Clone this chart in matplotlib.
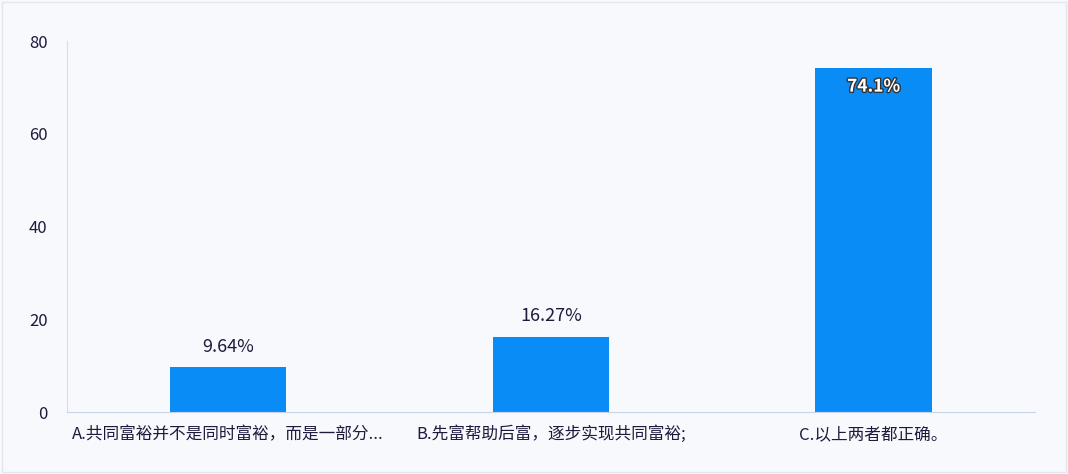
import matplotlib
matplotlib.use("Agg")
import matplotlib.pyplot as plt
import matplotlib.patheffects as pe

plt.rcParams['font.family'] = ['Noto Sans CJK SC', 'DejaVu Sans']

# data
categories = ["A.共同富裕并不是同时富裕，而是一部分...",
              "B.先富帮助后富，逐步实现共同富裕;",
              "C.以上两者都正确。"]
values = [9.64, 16.27, 74.1]
labels = ["9.64%", "16.27%", "74.1%"]
yticks = [0, 20, 40, 60, 80]

bg = "#f8f9fd"
bar_color = "#0a8cf6"
text_color = "#1e1a3c"

fig = plt.figure(figsize=(10.68, 4.74), dpi=100, facecolor=bg)
ax = fig.add_axes([0.0627, 0.1308, 0.9063, 0.7827], facecolor=bg)

x = list(range(len(categories)))
bars = ax.bar(x, values, width=0.36, color=bar_color, zorder=2)

ax.set_xlim(-0.5, len(categories) - 0.5)
ax.set_ylim(0, 80)
ax.set_yticks(yticks)
ax.set_xticks(x)
ax.set_xticklabels(categories, fontsize=12, color=text_color)
ax.tick_params(axis='y', labelsize=12, colors=text_color, length=0, pad=14)
ax.tick_params(axis='x', length=0, pad=10)

for s in ['top', 'right']:
    ax.spines[s].set_visible(False)
ax.spines['left'].set_color("#d8dcec")
ax.spines['bottom'].set_color("#c8d4ec")

for i, (v, lab) in enumerate(zip(values, labels)):
    if v > 50:
        ax.text(i, v - 2.0, lab, ha='center', va='top', fontsize=12.5,
                color='white', fontweight='bold',
                path_effects=[pe.withStroke(linewidth=2, foreground='#333333')])
    else:
        ax.text(i, v + 2.5, lab, ha='center', va='bottom', fontsize=13,
                color=text_color)

fig.patches.append(plt.Rectangle((0.002, 0.004), 0.996, 0.992, transform=fig.transFigure,
                                 fill=False, edgecolor="#e4e6ee", linewidth=1))

fig.savefig("out.png", dpi=100, facecolor=bg)
